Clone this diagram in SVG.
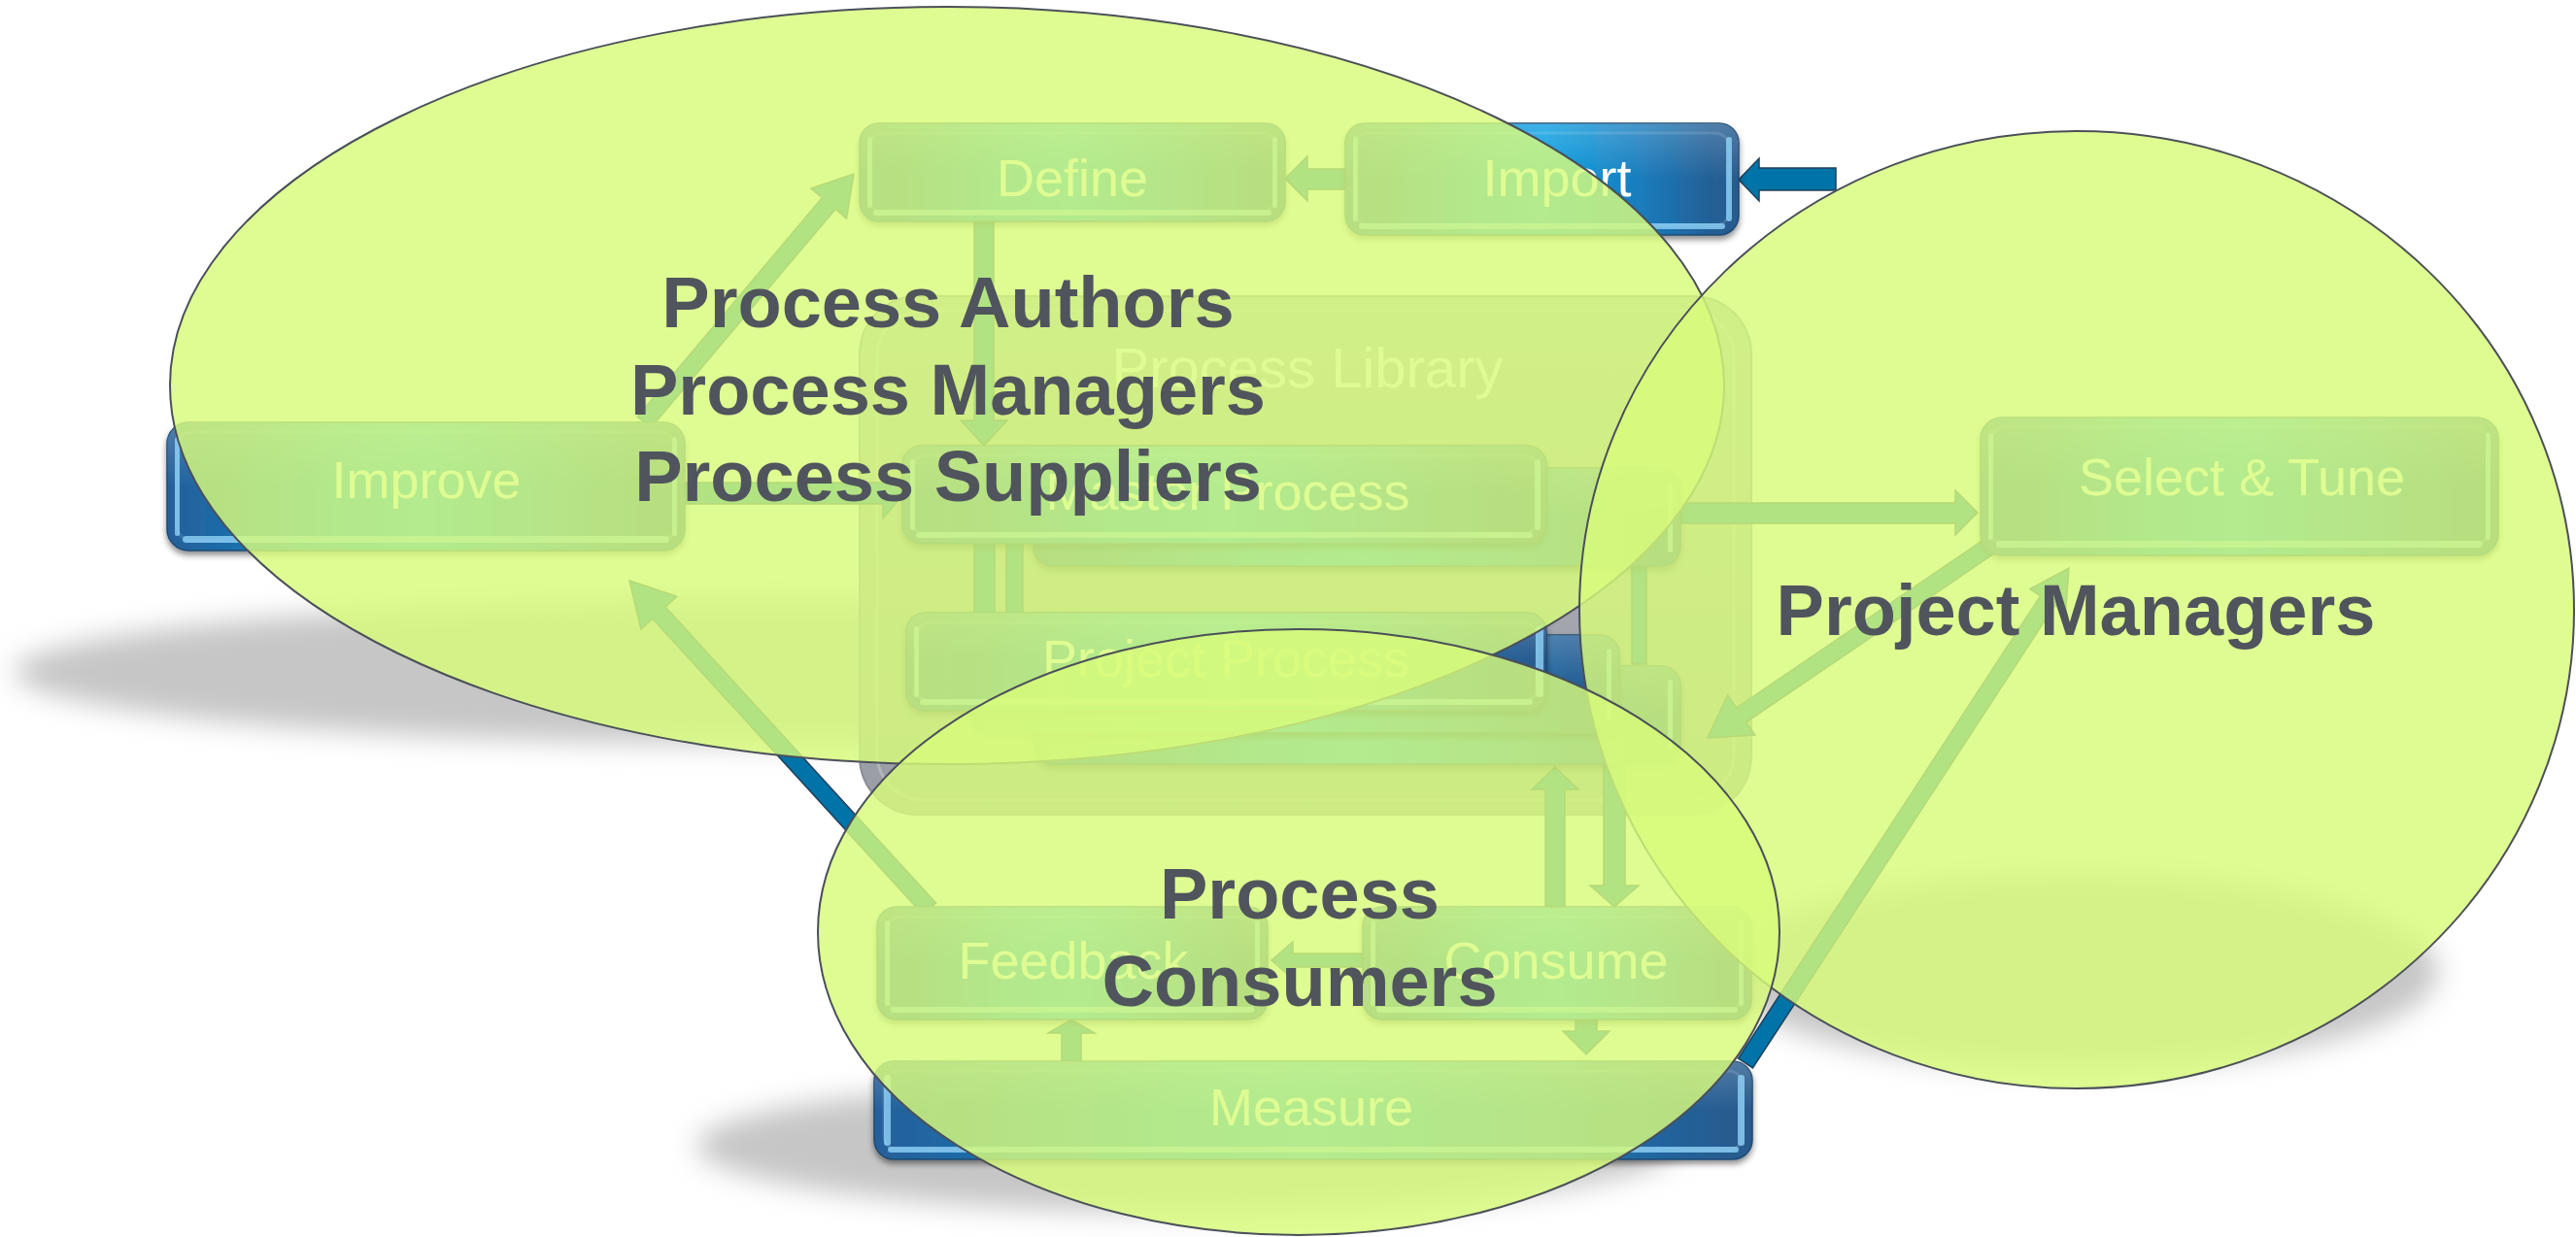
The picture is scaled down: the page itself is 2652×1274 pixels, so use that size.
<svg xmlns="http://www.w3.org/2000/svg" width="2652" height="1274" viewBox="0 0 2652 1274">
<defs>
<style>
.box{fill:url(#gBlue);stroke:#1c4b74;stroke-width:1.5;filter:url(#ds)}
.gloss{fill:url(#gGloss)}
.inner{fill:none;stroke:#ffffff;stroke-opacity:.12;stroke-width:3}
.hl{fill:#8fd2f7;opacity:.8}
.ntext{font-family:"Liberation Sans",Arial,sans-serif;font-size:54px;fill:#ffffff;text-anchor:middle}
.conn{fill:#0073a8;stroke:#21405a;stroke-width:1.5;stroke-linejoin:miter}
.actor{fill:#d8fb7b;fill-opacity:.82;stroke:#4b5058;stroke-width:2}
.label{font-family:"Liberation Sans",Arial,sans-serif;font-size:74px;font-weight:bold;fill:#50545c;text-anchor:middle}
.shadow{fill:#c6c6c6;filter:url(#blur)}
</style>
<linearGradient id="gBlue" x1="0" y1="0" x2="1" y2="0">
<stop offset="0" stop-color="#27609a"/>
<stop offset="0.1" stop-color="#1d6aa6"/>
<stop offset="0.35" stop-color="#0a93d6"/>
<stop offset="0.5" stop-color="#07a0e2"/>
<stop offset="0.75" stop-color="#1a7cbd"/>
<stop offset="0.93" stop-color="#245f96"/>
<stop offset="1" stop-color="#2a5a8c"/>
</linearGradient>
<linearGradient id="gGloss" x1="0" y1="0" x2="0" y2="1">
<stop offset="0" stop-color="#ffffff" stop-opacity=".2"/>
<stop offset="0.5" stop-color="#ffffff" stop-opacity="0"/>
</linearGradient>
<linearGradient id="gGray" x1="0" y1="0" x2="0" y2="1">
<stop offset="0" stop-color="#b4b6bd"/>
<stop offset="1" stop-color="#9a9ca5"/>
</linearGradient>
<filter id="blur" x="-20%" y="-60%" width="140%" height="220%"><feGaussianBlur stdDeviation="14"/></filter>
<filter id="ds" x="-5%" y="-10%" width="110%" height="130%"><feDropShadow dx="0" dy="4" stdDeviation="3" flood-color="#000" flood-opacity=".45"/></filter>
</defs>
<rect width="2652" height="1274" fill="#ffffff"/>

<g id="shadows">
<ellipse class="shadow" cx="800" cy="692" rx="785" ry="74"/>
<ellipse class="shadow" cx="1222" cy="1180" rx="505" ry="68"/>
<ellipse class="shadow" cx="2140" cy="1000" rx="370" ry="100"/>
</g>

<g id="n-library">
<rect x="885" y="305" width="918" height="534" rx="60" fill="url(#gGray)" stroke="#8a8c94" stroke-width="2"/>
<rect x="903" y="320" width="882" height="504" rx="48" fill="none" stroke="#ffffff" stroke-opacity=".25" stroke-width="3"/>
<text x="1346" y="399" class="ntext" style="font-size:58px">Process Library</text>
</g>

<g id="connectors">
<polygon class="conn" points="1890,173 1811,173 1811,163 1790,185 1811,207 1811,196 1890,196"/>
<polygon class="conn" points="1385,174 1346,174 1346,161 1323,184 1346,207 1346,195 1385,195"/>
<polygon class="conn" points="1003,228 1003,433 989,433 1013,459 1037,433 1023,433 1023,228"/>
<polygon class="conn" points="669.9,440.8 860.1,215.4 871.5,225.1 879,179 834.9,194.1 846.3,203.8 656.1,429.2"/>
<polygon class="conn" points="705,497 909,497 909,482 931,508 909,534 909,519 705,519"/>
<polygon class="conn" points="1730,518 2013,518 2013,505 2036,528 2013,551 2013,539 1730,539"/>
<polygon class="conn" points="2054.1,569.4 1797.8,743.8 1806.8,757.1 1758,760 1778.6,715.7 1787.6,729 2043.9,554.6"/>
<rect class="conn" x="1003" y="558" width="21" height="75"/>
<rect class="conn" x="1036" y="558" width="17" height="75"/>
<rect class="conn" x="1680" y="580" width="15" height="104"/>
<polygon class="conn" points="1651,770 1651,912 1637,912 1662,934 1687,912 1673,912 1673,770"/>
<polygon class="conn" points="1591,934 1591,813 1577,813 1601,790 1625,813 1611,813 1611,934"/>
<polygon class="conn" points="1403,982 1331,982 1331,970 1309,989 1331,1008 1331,996 1403,996"/>
<polygon class="conn" points="1622,1050 1622,1062 1609,1062 1633,1086 1657,1062 1644,1062 1644,1050"/>
<polygon class="conn" points="1093,1093 1093,1064 1079,1064 1103,1050 1127,1064 1113,1064 1113,1093"/>
<polygon class="conn" points="963.6,929.9 685,625.1 696.9,614.3 648,598 659.9,648.1 671.8,637.3 950.4,942.1"/>
<polygon class="conn" points="1804.5,1099.9 2115.6,623.4 2126.5,630.5 2130,585 2089.7,606.5 2100.6,613.6 1789.5,1090.1"/>
</g>

<g id="n-define">
<rect class="box" x="885" y="127" width="438" height="101" rx="20"/>
<rect class="gloss" x="885" y="127" width="438" height="101" rx="20"/>
<rect class="inner" x="895" y="137" width="418" height="81" rx="14"/>
<rect class="hl" x="893" y="141" width="5" height="73" rx="2.5"/>
<rect class="hl" x="1310" y="141" width="5" height="73" rx="2.5"/>
<rect class="hl" x="899" y="216" width="410" height="6" rx="3"/>
<text class="ntext" x="1104" y="202">Define</text>
</g>

<g id="n-import">
<rect class="box" x="1385" y="127" width="405" height="115" rx="20"/>
<rect class="gloss" x="1385" y="127" width="405" height="115" rx="20"/>
<rect class="inner" x="1395" y="137" width="385" height="95" rx="14"/>
<rect class="hl" x="1393" y="141" width="5" height="87" rx="2.5"/>
<rect class="hl" x="1777" y="141" width="6" height="87" rx="3"/>
<rect class="hl" x="1399" y="230" width="377" height="6" rx="3"/>
<text class="ntext" x="1603" y="202">Import</text>
</g>

<g id="n-improve">
<rect class="box" x="172" y="435" width="533" height="132" rx="22"/>
<rect class="gloss" x="172" y="435" width="533" height="132" rx="22"/>
<rect class="inner" x="182" y="445" width="513" height="112" rx="16"/>
<rect class="hl" x="180" y="450" width="5" height="102" rx="2.5"/>
<rect class="hl" x="692" y="450" width="5" height="102" rx="2.5"/>
<rect class="hl" x="188" y="552" width="501" height="7" rx="3.5"/>
<text class="ntext" x="439" y="513">Improve</text>
</g>

<g id="n-master">
<rect class="box" x="1064" y="482" width="666" height="101" rx="20"/>
<rect class="gloss" x="1064" y="482" width="666" height="101" rx="20"/>
<rect class="hl" x="1717" y="496" width="5" height="73" rx="2.5"/>
<rect class="box" x="929" y="459" width="663" height="101" rx="20"/>
<rect class="gloss" x="929" y="459" width="663" height="101" rx="20"/>
<rect class="inner" x="939" y="469" width="643" height="81" rx="14"/>
<rect class="hl" x="937" y="473" width="5" height="73" rx="2.5"/>
<rect class="hl" x="1580" y="473" width="6" height="73" rx="3"/>
<rect class="hl" x="943" y="548" width="635" height="6" rx="3"/>
<text class="ntext" x="1264" y="525">Master Process</text>
</g>

<g id="n-project">
<rect class="box" x="1064" y="686" width="666" height="101" rx="20"/>
<rect class="gloss" x="1064" y="686" width="666" height="101" rx="20"/>
<rect class="hl" x="1717" y="700" width="5" height="73" rx="2.5"/>
<rect class="box" x="998" y="654" width="669" height="101" rx="20"/>
<rect class="gloss" x="998" y="654" width="669" height="101" rx="20"/>
<rect class="hl" x="1654" y="668" width="5" height="73" rx="2.5"/>
<rect class="box" x="933" y="631" width="659" height="101" rx="20"/>
<rect class="gloss" x="933" y="631" width="659" height="101" rx="20"/>
<rect class="inner" x="943" y="641" width="639" height="81" rx="14"/>
<rect class="hl" x="941" y="645" width="5" height="73" rx="2.5"/>
<rect class="hl" x="1581" y="645" width="8" height="73" rx="3"/>
<rect class="hl" x="947" y="720" width="631" height="6" rx="3"/>
<text class="ntext" x="1262" y="697">Project Process</text>
</g>

<g id="n-select">
<rect class="box" x="2039" y="430" width="533" height="142" rx="22"/>
<rect class="gloss" x="2039" y="430" width="533" height="142" rx="22"/>
<rect class="inner" x="2049" y="440" width="513" height="122" rx="16"/>
<rect class="hl" x="2047" y="446" width="5" height="110" rx="2.5"/>
<rect class="hl" x="2559" y="446" width="5" height="110" rx="2.5"/>
<rect class="hl" x="2055" y="557" width="501" height="7" rx="3.5"/>
<text class="ntext" x="2308" y="510">Select &amp; Tune</text>
</g>

<g id="n-feedback">
<rect class="box" x="903" y="934" width="402" height="116" rx="20"/>
<rect class="gloss" x="903" y="934" width="402" height="116" rx="20"/>
<rect class="inner" x="913" y="944" width="382" height="96" rx="14"/>
<rect class="hl" x="911" y="948" width="5" height="88" rx="2.5"/>
<rect class="hl" x="1292" y="948" width="5" height="88" rx="2.5"/>
<rect class="hl" x="917" y="1037" width="374" height="6" rx="3"/>
<text class="ntext" x="1105" y="1008">Feedback</text>
</g>

<g id="n-consume">
<rect class="box" x="1403" y="934" width="400" height="116" rx="20"/>
<rect class="gloss" x="1403" y="934" width="400" height="116" rx="20"/>
<rect class="inner" x="1413" y="944" width="380" height="96" rx="14"/>
<rect class="hl" x="1411" y="948" width="5" height="88" rx="2.5"/>
<rect class="hl" x="1790" y="948" width="5" height="88" rx="2.5"/>
<rect class="hl" x="1417" y="1037" width="372" height="6" rx="3"/>
<text class="ntext" x="1602" y="1008">Consume</text>
</g>

<g id="n-measure">
<rect class="box" x="900" y="1093" width="904" height="101" rx="20"/>
<rect class="gloss" x="900" y="1093" width="904" height="101" rx="20"/>
<rect class="inner" x="910" y="1103" width="884" height="81" rx="14"/>
<rect class="hl" x="910" y="1107" width="7" height="73" rx="3"/>
<rect class="hl" x="1789" y="1107" width="7" height="73" rx="3"/>
<rect class="hl" x="914" y="1181" width="876" height="6" rx="3"/>
<text class="ntext" x="1350" y="1159">Measure</text>
</g>

<g id="a-authors">
<ellipse class="actor" cx="975" cy="397" rx="800" ry="390"/>
</g>
<g id="a-pm">
<ellipse class="actor" cx="2138" cy="628" rx="512" ry="493"/>
</g>
<g id="a-consumers">
<ellipse class="actor" cx="1337" cy="960" rx="495" ry="312"/>
</g>

<g id="labels">
<text class="label" x="976" y="337">Process Authors</text>
<text class="label" x="976" y="427">Process Managers</text>
<text class="label" x="976" y="516">Process Suppliers</text>
<text class="label" x="2137" y="654">Project Managers</text>
<text class="label" x="1338" y="946">Process</text>
<text class="label" x="1338" y="1036">Consumers</text>
</g>
</svg>
